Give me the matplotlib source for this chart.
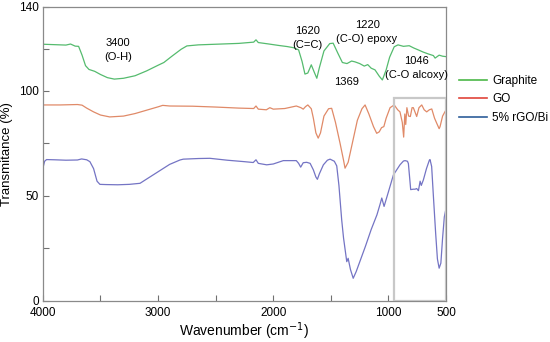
import matplotlib.pyplot as plt
from matplotlib.lines import Line2D
from matplotlib.patches import Rectangle

plt.rcParams['font.family'] = ['Liberation Sans', 'DejaVu Sans']

# Graphite
wn_graphite = [4000, 3900, 3800, 3760, 3720, 3690, 3660, 3630, 3600, 3550, 3500, 3440, 3380, 3300,
               3200, 3100, 3000, 2950, 2880, 2800, 2750, 2650, 2500, 2300, 2170, 2150, 2130, 2050,
               1950, 1880, 1820, 1780, 1750, 1725, 1700, 1670, 1645, 1622, 1600, 1560, 1510, 1480,
               1440, 1400, 1360, 1320, 1290, 1250, 1210, 1180, 1150, 1117, 1080, 1053, 1020, 990,
               950, 917, 870, 820, 780, 741, 700, 650, 610, 595, 560, 530, 500]
t_graphite = [122.2, 122.0, 121.8, 122.3, 121.3, 121.2, 117, 112, 110.2, 109.3, 107.8, 106.3, 105.6, 106.0,
              107.2, 109.5, 112.2, 113.5, 116.5, 119.8, 121.4, 121.9, 122.2, 122.6, 123.2, 124.3, 123.0, 122.4,
              121.6, 121.1, 120.5, 119.5, 114, 108, 108.5, 112.4, 109, 106, 111, 119, 122.5, 122.7,
              118, 113.5, 113, 114.2, 113.8, 113, 111.8, 112.5, 110.8, 110, 107, 105.2, 110, 116,
              121, 121.9, 121.2, 121.5, 120.4, 119.5, 118.5, 117.5, 116.8, 115.6, 117, 116.5, 116.3]

# GO
wn_go = [4000, 3850, 3700, 3660, 3620, 3560, 3500, 3420, 3300, 3200, 3100, 3000, 2960, 2900, 2700,
         2500, 2300, 2170, 2150, 2130, 2060, 2030, 2000, 1900, 1800, 1760, 1740, 1720, 1700, 1670,
         1652, 1630, 1610, 1590, 1560, 1520, 1493, 1460, 1420, 1390, 1377, 1350, 1310, 1270, 1230,
         1203, 1170, 1130, 1102, 1080, 1060, 1040, 1020, 986, 950, 920, 900, 880, 868, 858, 850,
         840, 825, 810, 795, 784, 770, 755, 735, 711, 690, 668, 645, 624, 600, 581, 560, 552, 530, 500]
t_go = [93.3, 93.3, 93.5, 93.2, 91.8, 90, 88.5, 87.6, 88.0, 89.2, 90.8, 92.4, 93.1, 92.8, 92.7,
        92.3, 91.8, 91.6, 92.8, 91.3, 91.0, 92.0, 91.3, 91.6, 92.8, 92.0, 91.3, 92.5, 93.3, 91.5,
        87, 80, 77.5, 80, 88, 91.5, 91.7, 85, 75, 67, 63.2, 66, 76, 86, 91.5,
        93.3, 89, 83, 79.8, 80.5, 82.5, 83, 87, 92, 93.3, 91, 90, 85, 78, 89, 84,
        92, 88, 87.8, 92, 92, 90, 87.8, 92, 93.3, 91, 90, 91, 91.4, 87, 84.6, 82, 83, 88, 91]

# 5% rGO/Bi
wn_rgo = [4000, 3985, 3968, 3900, 3800, 3700, 3664, 3620, 3592, 3560, 3530, 3505, 3450, 3350, 3250,
          3157, 3100, 3000, 2900, 2810, 2781, 2650, 2550, 2400, 2250, 2174, 2150, 2130, 2057, 2000,
          1913, 1800, 1780, 1762, 1740, 1710, 1680, 1652, 1630, 1617, 1600, 1565, 1530, 1507, 1470,
          1449, 1430, 1406, 1390, 1362, 1350, 1330, 1306, 1280, 1240, 1200, 1150, 1100, 1073, 1058,
          1038, 1000, 957, 900, 870, 856, 835, 827, 815, 807, 785, 769, 755, 740, 725, 715, 697,
          670, 645, 639, 625, 610, 590, 575, 560, 545, 530, 515, 500]
t_rgo = [63.2, 66.5, 67.3, 67.2, 67.0, 67.1, 67.6, 67.2, 66.3, 63, 57, 55.5, 55.4, 55.3, 55.5,
         56, 58, 61.5, 65, 67.1, 67.5, 67.8, 67.9, 67.0, 66.3, 65.9, 67.2, 65.5, 64.8, 65.2,
         66.8, 66.8, 65.5, 63.7, 65.8, 66, 65.5, 62.4, 59, 57.9, 60.5, 64.8, 67, 67.5, 66.5,
         64.3, 55, 38.6, 30, 18.7, 20.3, 15, 10.8, 14, 20, 26, 34, 41, 46, 49,
         45, 52, 60, 64.8, 66.6, 66.8, 66.5, 65.4, 58, 53, 53.2, 53.2, 53.5, 52.5, 57, 55, 57.6,
         63, 67, 67.3, 64, 50, 32, 20, 15.6, 18, 30, 40, 44.1]

labels = ["Graphite", "GO", "5% rGO/Bi"]
line_colors = ["#55bb6e", "#e08a68", "#7474c4"]
legend_colors = ["#4cb848", "#e0443a", "#2d5d9a"]

fig = plt.figure(figsize=(5.5, 3.42), dpi=100)
ax = fig.add_axes([0.078, 0.12, 0.733, 0.86])

ax.plot(wn_graphite, t_graphite, color=line_colors[0], lw=0.9)
ax.plot(wn_go, t_go, color=line_colors[1], lw=0.9)
ax.plot(wn_rgo, t_rgo, color=line_colors[2], lw=0.9)

# highlighted region
ax.add_patch(Rectangle((952, 0), -452, 96.7, fill=False, edgecolor="#c8c8c8", lw=1.6, zorder=3))

ax.set_xlim(4000, 500)
ax.set_ylim(0, 140)
ax.set_xticks([4000, 3000, 2000, 1000, 500])
ax.set_xticks([3500, 2500, 1500], minor=True)
ax.set_yticks([0, 50, 100, 140])
ax.set_yticks([25, 75, 120], minor=True)
ax.tick_params(which="both", direction="in", length=4, width=0.8, color="#707070", labelsize=8.5, pad=3)
ax.tick_params(axis="x", pad=4.5)
for s in ax.spines.values():
    s.set_color("#8a8a8a")
    s.set_linewidth(0.9)

ax.set_xlabel("Wavenumber (cm$^{-1}$)", fontsize=10, labelpad=1)
ax.set_ylabel("Transmitance (%)", fontsize=9.5)
ax.yaxis.set_label_coords(-0.073, 0.5)

fs = 8
ax.text(3350, 119.5, "3400\n(O-H)", ha="center", va="center", fontsize=fs, linespacing=1.5)
ax.text(1700, 125, "1620\n(C=C)", ha="center", va="center", fontsize=fs, linespacing=1.5)
ax.text(1186, 128, "1220\n(C-O) epoxy", ha="center", va="center", fontsize=fs, linespacing=1.5)
ax.text(1360, 104, "1369", ha="center", va="center", fontsize=fs)
ax.text(760, 111, "1046\n(C-O alcoxy)", ha="center", va="center", fontsize=fs, linespacing=1.5)

handles = [Line2D([], [], color=c, lw=1.2) for c in legend_colors]
fig.legend(handles, labels, loc="center left", bbox_to_anchor=(0.834, 0.71), frameon=False,
           fontsize=8.5, handlelength=2.4, handletextpad=0.45, borderpad=0, borderaxespad=0,
           labelspacing=0.55)

fig.savefig("out.png", dpi=100)
